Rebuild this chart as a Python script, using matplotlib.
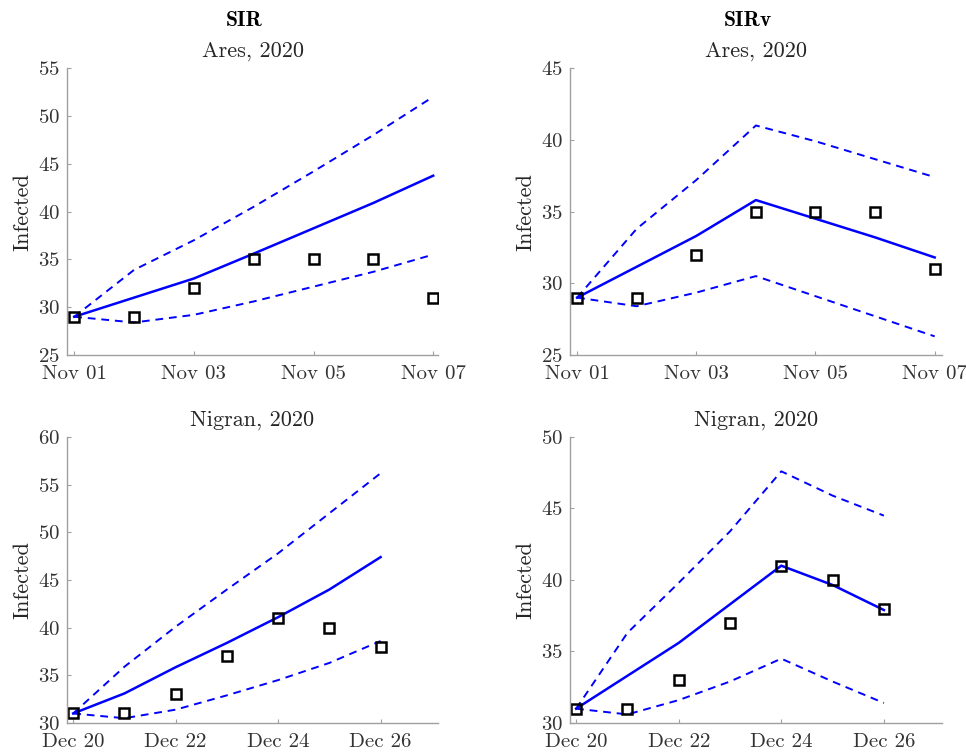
import datetime as dt
import matplotlib
matplotlib.use('Agg')
import matplotlib.pyplot as plt
import matplotlib.dates as mdates

plt.rcParams['font.family'] = ['cmr10', 'DejaVu Serif']
plt.rcParams['axes.formatter.use_mathtext'] = True
plt.rcParams['mathtext.fontset'] = 'cm'

# Ares, Nov 1-7 2020
ares_start = dt.datetime(2020, 11, 1)
ares_obs = [29, 29, 32, 35, 35, 35, 31]
ares_sir_mid = [29, 31.0, 33.0, 35.6, 38.25, 40.9, 43.75]
ares_sir_hi = [29, 33.9, 37.0, 40.5, 44.2, 48.0, 52.0]
ares_sir_lo = [29, 28.4, 29.2, 30.6, 32.15, 33.7, 35.5]
ares_sirv_mid = [29, 31.15, 33.3, 35.8, 34.5, 33.2, 31.8]
ares_sirv_hi = [29, 33.8, 37.2, 41.0, 39.9, 38.65, 37.4]
ares_sirv_lo = [29, 28.4, 29.35, 30.5, 29.1, 27.7, 26.3]

# Nigran, Dec 20-26 2020
nigran_start = dt.datetime(2020, 12, 20)
nigran_obs = [31, 31, 33, 37, 41, 40, 38]
nigran_sir_mid = [31, 33.1, 35.85, 38.4, 41.1, 44.0, 47.4]
nigran_sir_hi = [31, 35.9, 40.1, 44.0, 47.8, 52.0, 56.2]
nigran_sir_lo = [31, 30.5, 31.4, 32.9, 34.5, 36.3, 38.6]
nigran_sirv_mid = [31, 33.3, 35.6, 38.3, 41.0, 39.65, 37.9]
nigran_sirv_hi = [31, 36.3, 39.8, 43.4, 47.6, 45.9, 44.5]
nigran_sirv_lo = [31, 30.6, 31.6, 32.9, 34.5, 32.9, 31.4]

ylims = [(25, 55), (25, 45), (30, 60), (30, 50)]


def days(start, n):
    return [start + dt.timedelta(days=i) for i in range(n)]


def panel(ax, start, obs, mid, hi, lo, title, ylim, right_pad):
    t = days(start, len(obs))
    ax.plot(t, hi, '--', color='b', lw=1.4, dashes=(4, 3))
    ax.plot(t, lo, '--', color='b', lw=1.4, dashes=(4, 3))
    ax.plot(t, mid, '-', color='b', lw=1.8)
    ax.plot(t, obs, 's', ms=7, mfc='none', mec='k', mew=1.8)
    ax.set_xlim(start - dt.timedelta(days=0.12),
                start + dt.timedelta(days=6 + right_pad))
    ax.set_ylim(*ylim)
    ax.set_xticks(t[::2])
    ax.xaxis.set_major_formatter(mdates.DateFormatter('%b %d'))
    ax.set_ylabel('Infected', fontsize=16, color='#262626', labelpad=4)
    ax.set_title(title, fontsize=16, color='#262626', pad=8)
    for s in ['top', 'right']:
        ax.spines[s].set_visible(False)
    for s in ['left', 'bottom']:
        ax.spines[s].set_color('#a0a0a0')
        ax.spines[s].set_linewidth(1.0)
    ax.tick_params(direction='in', length=3, width=0.8, color='#a0a0a0',
                   labelsize=15, labelcolor='#333333')
    ax.tick_params(axis='x', pad=7)
    ax.tick_params(axis='y', pad=5)


fig = plt.figure(figsize=(9.66, 7.55), dpi=100)
ax1 = fig.add_axes([0.0694, 0.5298, 0.384, 0.380])
ax2 = fig.add_axes([0.590, 0.5298, 0.385, 0.380])
ax3 = fig.add_axes([0.0694, 0.0424, 0.384, 0.3788])
ax4 = fig.add_axes([0.590, 0.0424, 0.385, 0.3788])

panel(ax1, ares_start, ares_obs, ares_sir_mid, ares_sir_hi, ares_sir_lo,
      'Ares, 2020', ylims[0], 0.08)
panel(ax2, ares_start, ares_obs, ares_sirv_mid, ares_sirv_hi, ares_sirv_lo,
      'Ares, 2020', ylims[1], 0.12)
panel(ax3, nigran_start, nigran_obs, nigran_sir_mid, nigran_sir_hi,
      nigran_sir_lo, 'Nigran, 2020', ylims[2], 1.12)
panel(ax4, nigran_start, nigran_obs, nigran_sirv_mid, nigran_sirv_hi,
      nigran_sirv_lo, 'Nigran, 2020', ylims[3], 1.13)

fig.text(0.253, 0.9735, 'SIR', fontsize=15.5, family=['cmb10', 'DejaVu Serif'],
         ha='center', va='center')
fig.text(0.774, 0.9735, 'SIRv', fontsize=15.5, family=['cmb10', 'DejaVu Serif'],
         ha='center', va='center')

fig.savefig('out.png', dpi=100)
